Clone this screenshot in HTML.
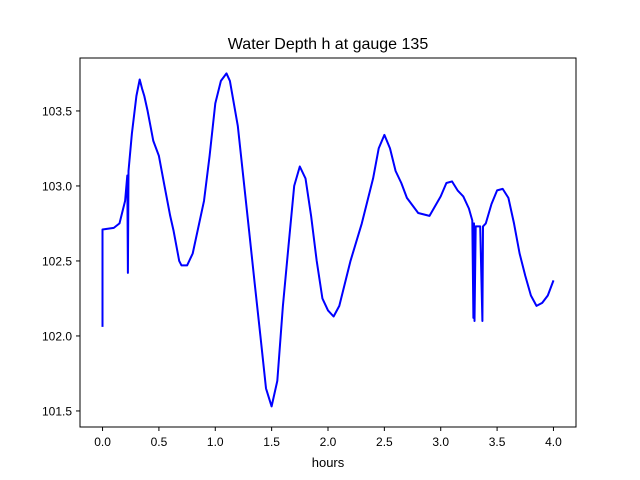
<!DOCTYPE html>
<html><head><meta charset="utf-8"><style>
body{margin:0;background:#fff;}
svg{display:block;font-family:"Liberation Sans","DejaVu Sans",sans-serif;}
</style></head><body>
<svg id="chart" width="640" height="480">
<rect x="0" y="0" width="640" height="480" fill="#fff"/>
<text x="328" y="49" font-size="16" text-anchor="middle">Water Depth h at gauge 135</text>
<text x="328" y="467" font-size="13" text-anchor="middle">hours</text>
<g id="ticks"></g>
<polyline id="line" fill="none" stroke="#0000ff" stroke-width="2" stroke-linejoin="round"/>
<rect x="80" y="58" width="496" height="369" fill="none" stroke="#000" stroke-width="1"/>
</svg>
<script>
const times=[0,0,0.1,0.15,0.2,0.22,0.225,0.23,0.26,0.3,0.33,0.35,0.37,0.4,0.45,0.5,0.55,0.6,0.63,0.68,0.7,0.75,0.8,0.9,0.95,1.0,1.05,1.1,1.13,1.2,1.3,1.35,1.4,1.45,1.5,1.55,1.6,1.65,1.7,1.75,1.8,1.85,1.9,1.95,2.0,2.05,2.1,2.2,2.3,2.4,2.45,2.5,2.55,2.6,2.65,2.7,2.8,2.9,3.0,3.05,3.1,3.15,3.2,3.25,3.28,3.29,3.295,3.3,3.31,3.35,3.37,3.375,3.4,3.45,3.5,3.55,3.6,3.65,3.7,3.75,3.8,3.85,3.9,3.95,4.0];
const depths=[102.06,102.71,102.72,102.75,102.9,103.07,102.42,103.1,103.35,103.6,103.71,103.65,103.6,103.5,103.3,103.2,103.0,102.8,102.7,102.5,102.47,102.47,102.55,102.9,103.2,103.55,103.7,103.75,103.7,103.4,102.7,102.35,102.0,101.65,101.53,101.7,102.2,102.6,103.0,103.13,103.05,102.8,102.5,102.25,102.17,102.13,102.2,102.5,102.75,103.05,103.25,103.34,103.25,103.1,103.02,102.92,102.82,102.8,102.93,103.02,103.03,102.97,102.93,102.85,102.77,102.12,102.75,102.1,102.73,102.73,102.1,102.73,102.75,102.88,102.97,102.98,102.92,102.75,102.55,102.4,102.27,102.2,102.22,102.27,102.37];
const xTicks=[0,0.5,1.0,1.5,2.0,2.5,3.0,3.5,4.0];
const yTicks=[101.5,102.0,102.5,103.0,103.5];
const X=v=>80+(v+0.2)/4.4*496;
const Y=v=>427-(v-101.393)/(103.853-101.393)*369;
const ns="http://www.w3.org/2000/svg";
const g=document.getElementById('ticks');
function mk(t,a){const e=document.createElementNS(ns,t);for(const k in a)e.setAttribute(k,a[k]);g.appendChild(e);return e;}
xTicks.forEach(v=>{
 const l=mk('line',{x1:X(v),x2:X(v),y1:427,y2:431,stroke:'#000'});
 
 
 const t=mk('text',{x:X(v),y:446,'font-size':12,'text-anchor':'middle'});
 t.textContent=v.toFixed(1);
 
 
});
yTicks.forEach(v=>{
 const l=mk('line',{x1:76,x2:80,y1:Y(v),y2:Y(v),stroke:'#000'});
 
 
 const t=mk('text',{x:72,y:Y(v)+4.5,'font-size':12,'text-anchor':'end'});
 t.textContent=v.toFixed(1);
 
 
});
document.getElementById('line').setAttribute('points',times.map((t,i)=>X(t).toFixed(1)+','+Y(depths[i]).toFixed(1)).join(' '));
</script>
</body></html>
